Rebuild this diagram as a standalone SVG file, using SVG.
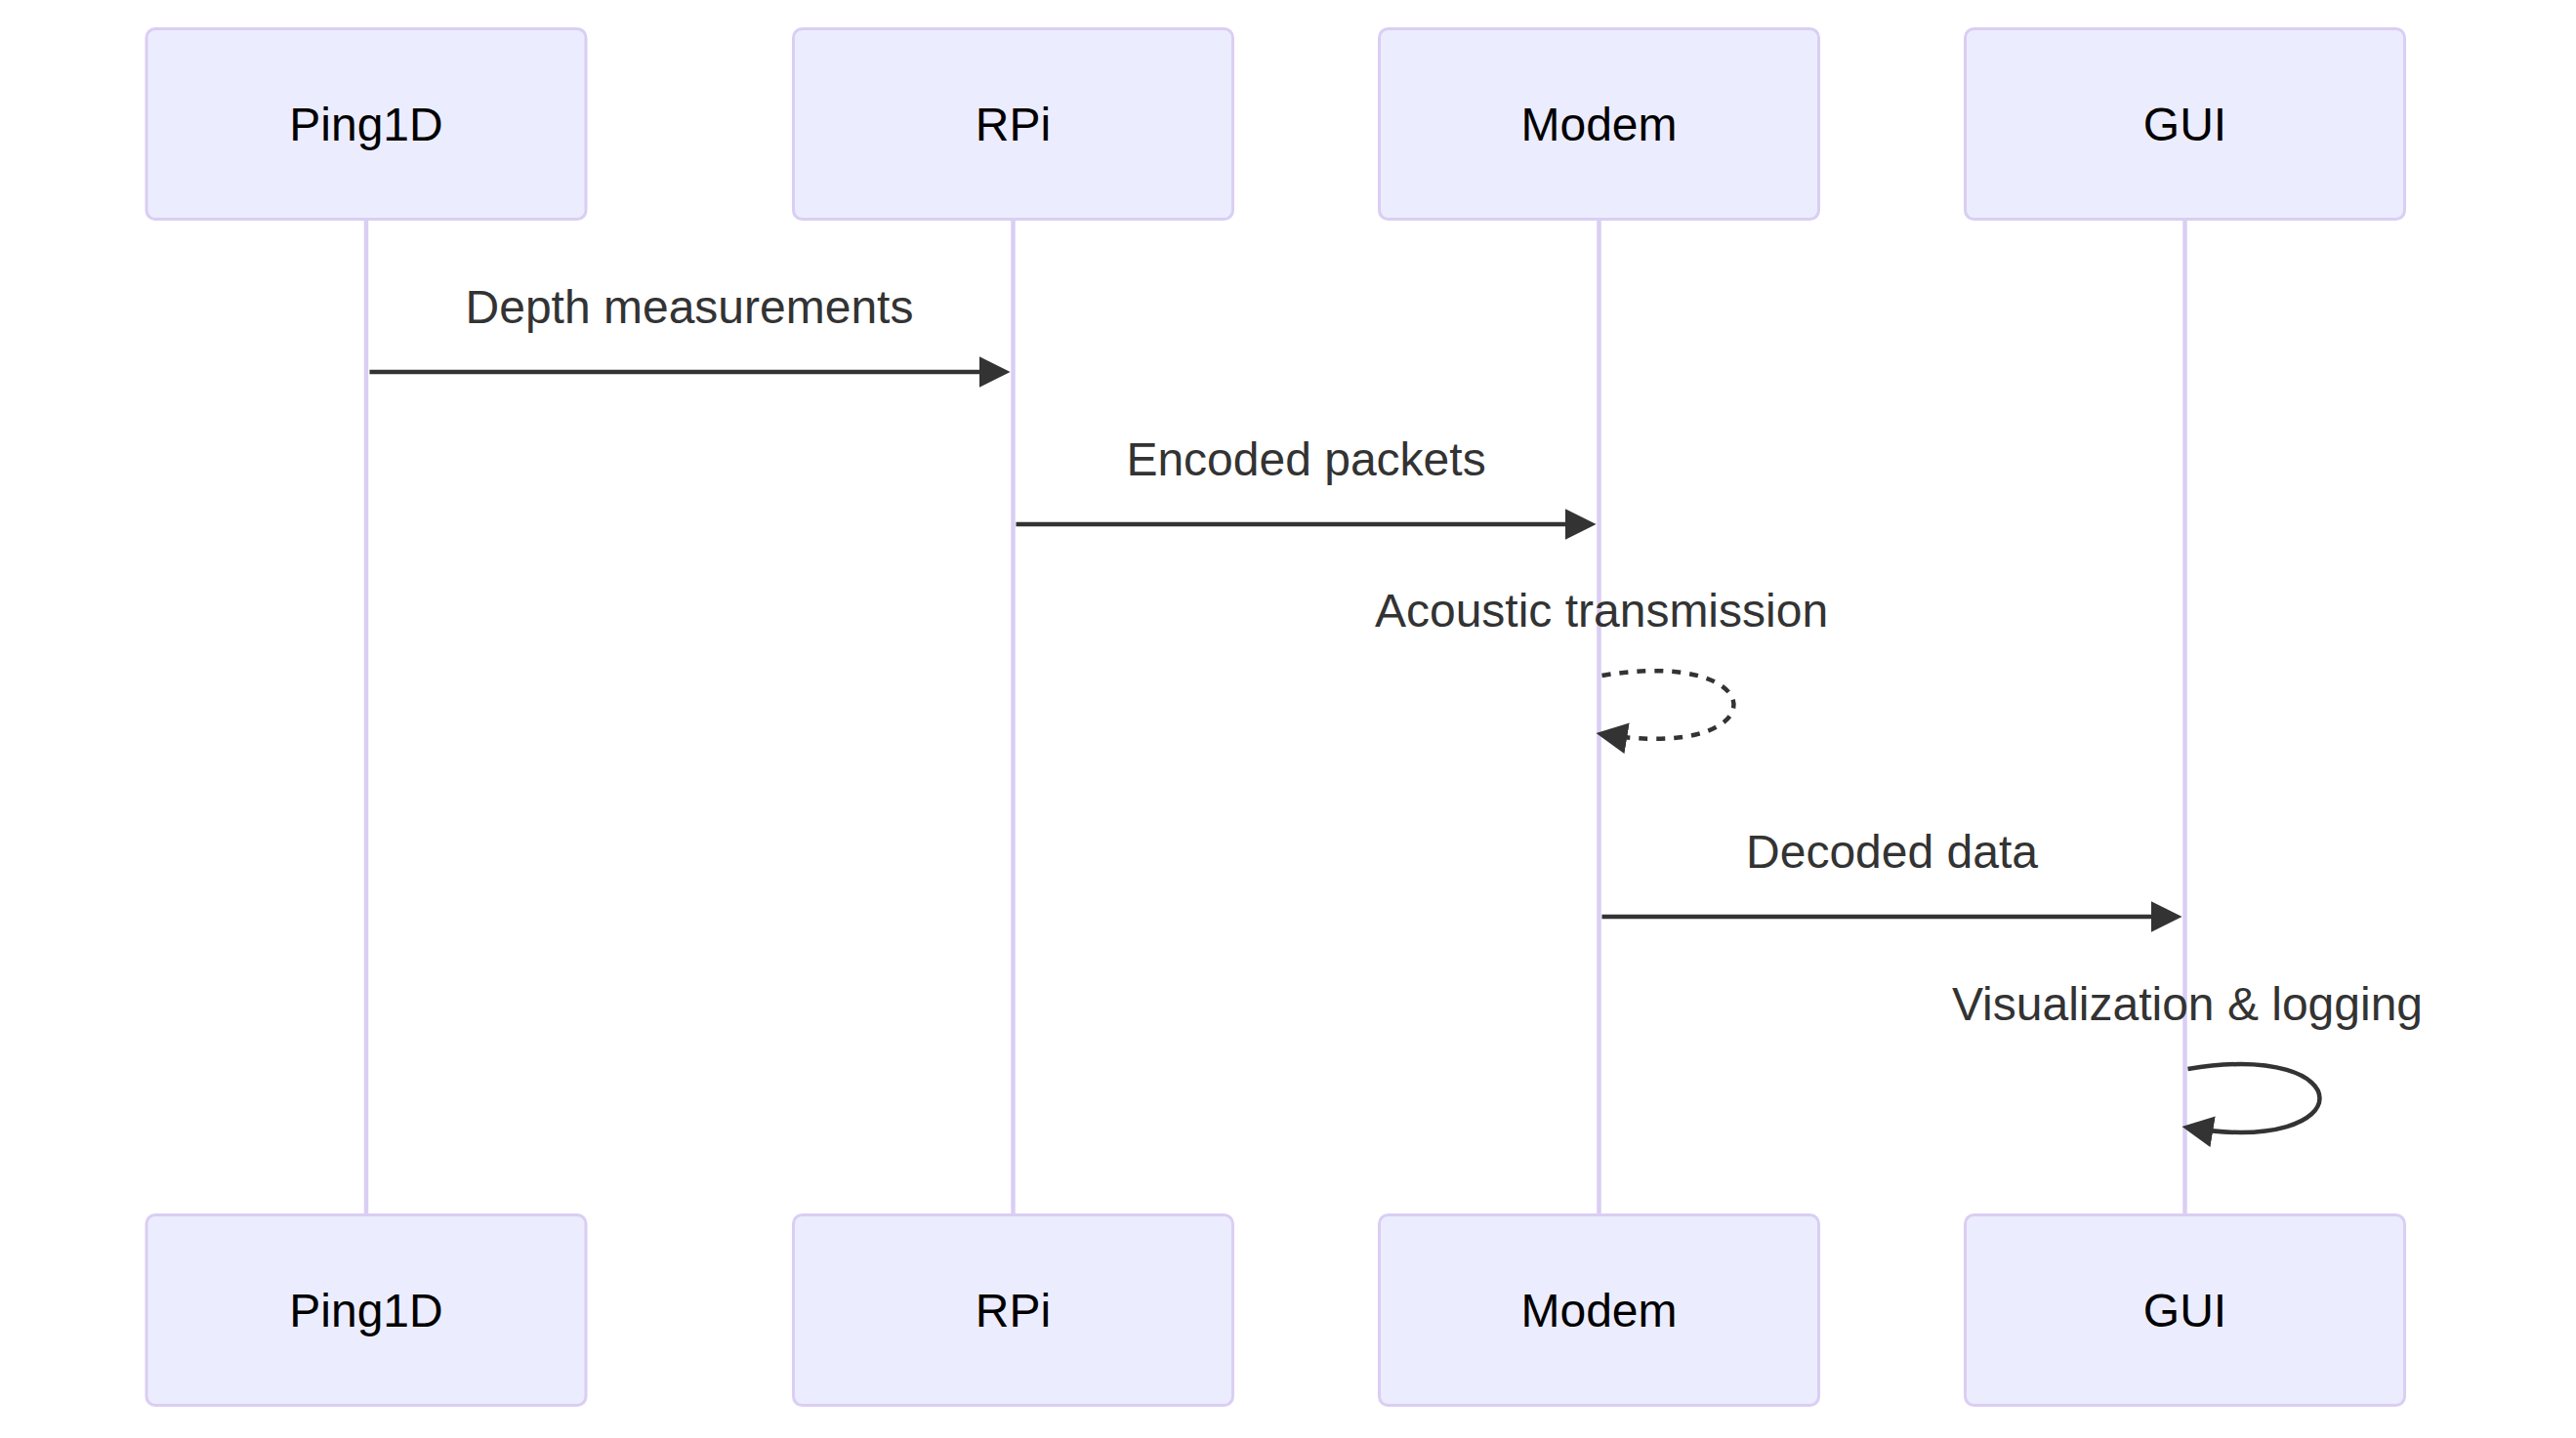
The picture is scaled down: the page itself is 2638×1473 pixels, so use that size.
<svg xmlns="http://www.w3.org/2000/svg" width="2638" height="1473" viewBox="0 0 2638 1473">
<style>
.actor{fill:#ECECFF;stroke:#DACEF3;stroke-width:3}
.actor-text{font-family:"Trebuchet MS","Liberation Sans",Arial,sans-serif;font-size:48px;fill:#000;text-anchor:middle}
.lifeline{stroke:#DACEF3;stroke-width:4.5;fill:none}
.msg{stroke:#333;stroke-width:4.5;fill:none}
.dashed{stroke-dasharray:9,9}
.msg-text{font-family:"Trebuchet MS","Liberation Sans",Arial,sans-serif;font-size:48px;fill:#333;text-anchor:middle}
</style>
<defs>
<marker id="arrowhead" viewBox="0 0 10 10" refX="8.1" refY="5" markerUnits="userSpaceOnUse" markerWidth="32" markerHeight="32" orient="auto">
<path d="M 0 0 L 10 5 L 0 10 z" fill="#333"/>
</marker>
</defs>
<rect width="2638" height="1473" fill="#fff"/>
<g id="lifelines">
<line class="lifeline" x1="375" y1="225" x2="375" y2="1244.5"/>
<line class="lifeline" x1="1037.5" y1="225" x2="1037.5" y2="1244.5"/>
<line class="lifeline" x1="1637.5" y1="225" x2="1637.5" y2="1244.5"/>
<line class="lifeline" x1="2237.5" y1="225" x2="2237.5" y2="1244.5"/>
</g>
<g id="Ping1D">
<rect class="actor" x="150" y="29.5" width="450" height="195" rx="9"/>
<text class="actor-text" x="375" y="143.5">Ping1D</text>
<rect class="actor" x="150" y="1244.5" width="450" height="195" rx="9"/>
<text class="actor-text" x="375" y="1358.5">Ping1D</text>
</g>
<g id="RPi">
<rect class="actor" x="812.5" y="29.5" width="450" height="195" rx="9"/>
<text class="actor-text" x="1037.5" y="143.5">RPi</text>
<rect class="actor" x="812.5" y="1244.5" width="450" height="195" rx="9"/>
<text class="actor-text" x="1037.5" y="1358.5">RPi</text>
</g>
<g id="Modem">
<rect class="actor" x="1412.5" y="29.5" width="450" height="195" rx="9"/>
<text class="actor-text" x="1637.5" y="143.5">Modem</text>
<rect class="actor" x="1412.5" y="1244.5" width="450" height="195" rx="9"/>
<text class="actor-text" x="1637.5" y="1358.5">Modem</text>
</g>
<g id="GUI">
<rect class="actor" x="2012.5" y="29.5" width="450" height="195" rx="9"/>
<text class="actor-text" x="2237.5" y="143.5">GUI</text>
<rect class="actor" x="2012.5" y="1244.5" width="450" height="195" rx="9"/>
<text class="actor-text" x="2237.5" y="1358.5">GUI</text>
</g>
<g id="connectors">
<line class="msg" x1="378.5" y1="381" x2="1028.5" y2="381" marker-end="url(#arrowhead)"/>
<text class="msg-text" x="706" y="331">Depth measurements</text>
<line class="msg" x1="1040.5" y1="537" x2="1628.5" y2="537" marker-end="url(#arrowhead)"/>
<text class="msg-text" x="1337.5" y="487">Encoded packets</text>
<path class="msg dashed" d="M 1640.5 692 C 1820.5 662 1820.5 782 1640.5 752" marker-end="url(#arrowhead)"/>
<text class="msg-text" x="1640" y="642">Acoustic transmission</text>
<line class="msg" x1="1640.5" y1="939" x2="2228.5" y2="939" marker-end="url(#arrowhead)"/>
<text class="msg-text" x="1937.5" y="889">Decoded data</text>
<path class="msg" d="M 2240.5 1095 C 2420.5 1065 2420.5 1185 2240.5 1155" marker-end="url(#arrowhead)"/>
<text class="msg-text" x="2240" y="1045">Visualization &amp; logging</text>
</g>
</svg>
